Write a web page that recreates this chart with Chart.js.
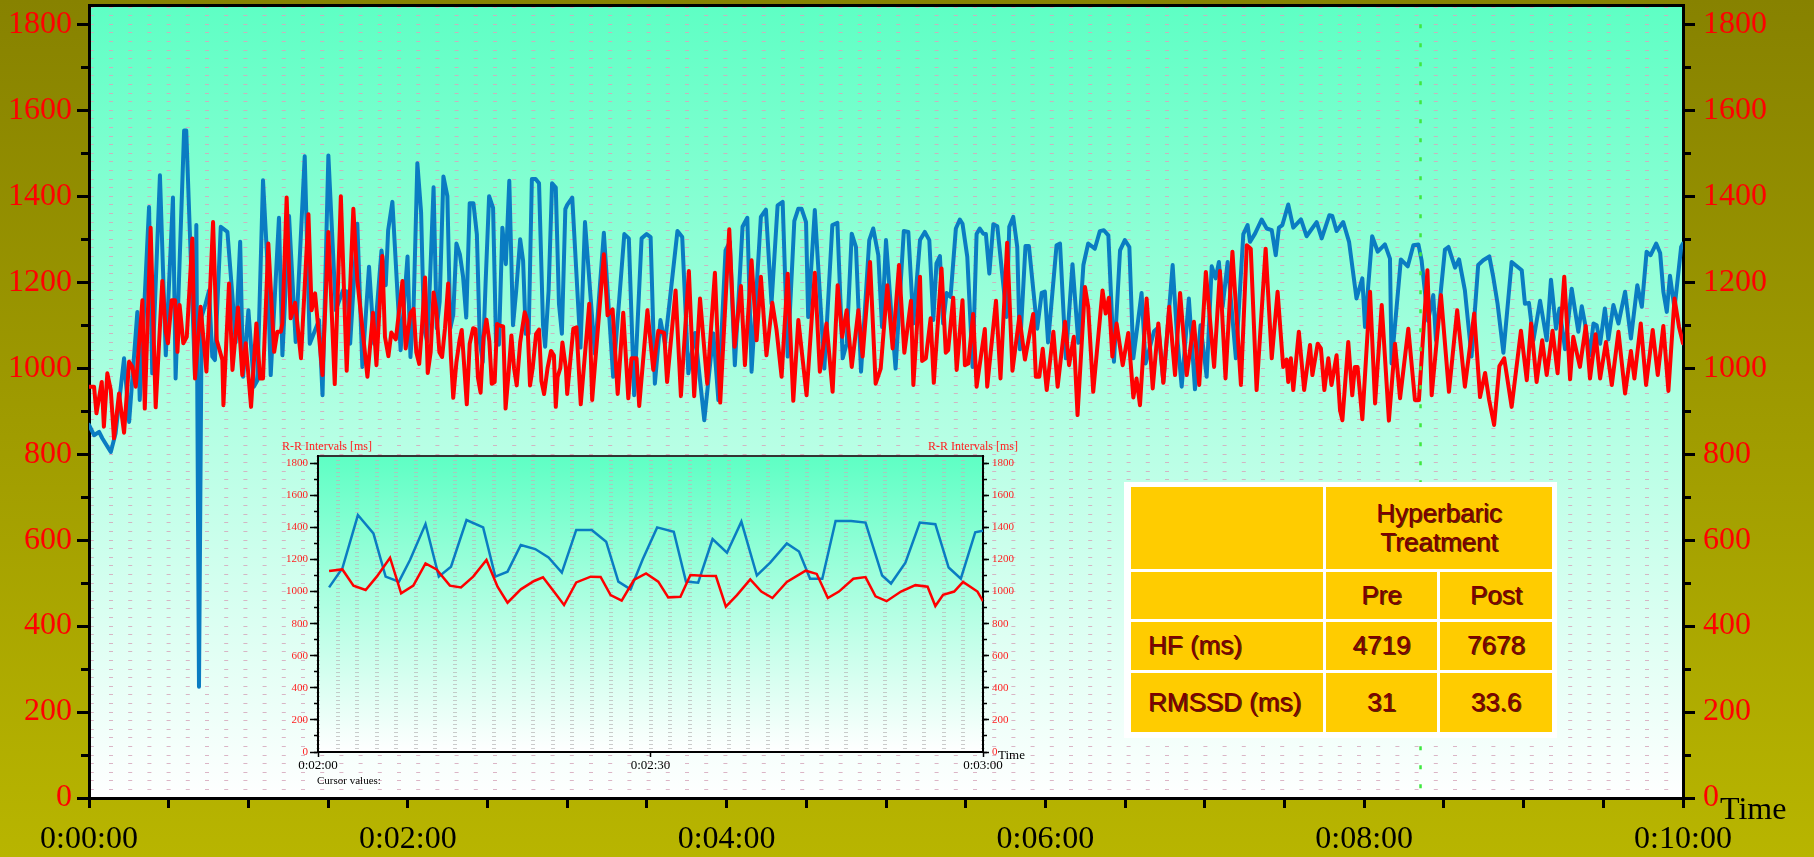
<!DOCTYPE html>
<html>
<head>
<meta charset="utf-8">
<script src="https://cdn.jsdelivr.net/npm/chart.js@4.4.1/dist/chart.umd.min.js"></script>
<style>
  html, body { margin: 0; padding: 0; }
  body { width: 1814px; height: 857px; overflow: hidden; position: relative;
         background: linear-gradient(to bottom, #878200, #b8b500); font-family: 'Liberation Serif', serif; }
  #main { position: absolute; left: 0; top: 0; }
  #inset { position: absolute; left: 230px; top: 430px; }
  .lbl { position: absolute; white-space: nowrap; line-height: 1; }
  #stats { position: absolute; left: 1124px; top: 482px; width: 433px; height: 256px; box-sizing: border-box;
           background: #fff; padding: 5px 4px 5px 7px; display: grid;
           grid-template-columns: 192px 111px 112px; grid-template-rows: 82px 47px 48px 59px; gap: 3px;
           font-family: 'Liberation Sans', Arial, sans-serif; font-size: 26px; color: #7d0000;
           text-shadow: 1.2px 1.2px 0 rgba(40,0,0,0.8); }
  #stats div { background: #ffcc00; display: flex; align-items: center; justify-content: center; text-align: center; line-height: 1.12; }
  #stats div.rowlab { justify-content: flex-start; padding-left: 17px; }
</style>
</head>
<body>
<canvas id="main" width="1814" height="857"></canvas>
<canvas id="inset" width="830" height="380"></canvas>
<div class="lbl" style="left:1720px; top:792px; font-size:32px; color:#000;">Time</div>
<div class="lbl" style="left:282px; top:440px; font-size:12px; color:#ff2020;">R-R Intervals [ms]</div>
<div class="lbl" style="left:928px; top:440px; font-size:12px; color:#ff2020;">R-R Intervals [ms]</div>
<div class="lbl" style="left:998px; top:748px; font-size:13px; color:#000;">Time</div>
<div class="lbl" style="left:317px; top:775px; font-size:11px; color:#000;">Cursor values:</div>
<div id="stats"></div>
<script>
// R-R series, [seconds, ms]
const blueRR = [
  [0,868],[1.9,844],[3.8,852],[5.0,837],[8.2,805],[10.0,848],[13.2,1023],[15.1,875],[18.2,1131],[19.1,926],
  [22.6,1375],[23.8,988],[26.7,1449],[28.9,1030],[31.6,1397],[32.6,976],[35.8,1553],[36.6,1553],[39.9,980],[40.4,1333],
  [41.4,259],[42.4,1120],[43.9,1150],[45.2,1181],[46.4,1027],[47.4,1019],[49.6,1329],[52.1,1317],[54.0,1166],[55.2,1060],
  [56.9,1294],[58.0,980],[60.0,1135],[62.1,957],[63.4,972],[65.5,1437],[67.1,1251],[68.4,984],[71.5,1350],[72.8,1030],
  [75.3,1354],[77.8,1061],[81.2,1493],[83.1,1057],[86.6,1112],[87.9,937],[90.1,1495],[92.9,1135],[95.6,1181],[97.3,1178],
  [98.3,1057],[101.0,1336],[102.9,1003],[105.4,1236],[107.3,1057],[110.1,1274],[111.7,1193],[112.6,1321],[114.2,1387],[117.3,1042],
  [119.9,1260],
  [121.0,1026],[122.2,1145],[123.6,1477],[125.0,1363],[126.1,1093],[127.3,1062],[128.3,1197],[129.7,1421],[130.9,1093],[132.0,1155],
  [133.4,1446],[134.9,1400],[136.0,1093],[137.1,1124],[138.3,1290],[139.6,1265],[140.8,1213],[142.0,1118],[143.3,1384],[144.7,1384],
  [146.0,1311],[147.1,1062],[148.2,1014],[149.3,1201],[150.6,1400],[152.1,1373],[153.2,1062],[154.3,1055],[155.6,1327],[156.9,1242],
  [158.2,1436],[159.6,1100],[160.8,1180],[162.3,1300],[163.4,1250],[164.4,1080],[165.5,1080],[166.7,1440],[168.1,1440],[169.4,1430],
  [170.9,1100],[171.7,1050],[173.0,1180],[174.3,1430],[175.7,1420],[176.9,1150],[178.0,1080],[179.3,1370],[180.0,1380],
  [181.9,1397],[185.0,1048],[186.7,1340],[190.4,1034],[193.8,1315],[197.3,980],[201.5,1312],[203.2,1302],[205.2,937],[208.0,1302],
  [209.9,1312],[211.4,1305],[213.0,964],[215.1,1112],[216.8,1057],[221.5,1319],[223.3,1305],[225.6,988],[228.1,1082],[231.6,879],
  [235.0,1081],[236.9,926],[239.6,1274],[241.2,1294],[243.1,1007],[246.0,1329],[247.8,1350],[249.4,992],[252.9,1352],[254.8,1369],
  [256.9,1150],[259.2,1379],[261.1,1387],[263.0,1027],[265.5,1343],[267.0,1371],[268.2,1371],[269.9,1340],[270.7,1119],[273.2,1368],
  [276.8,999],[279.8,1333],[281.7,1338],[283.7,1023],[285.2,1057],[287.1,1313],[288.7,1282],[290.6,992],[293.7,1298],[295.2,1325],
  [297.1,1263],[298.5,1096],
  [300.0,1298],[302.1,1119],[303.6,999],[306.7,1319],[308.4,1317],[310.3,1104],[312.8,1298],[314.6,1317],[316.3,1298],[317.8,1112],
  [319.0,1244],[320.3,1261],[321.5,1104],[322.8,1175],[324.3,1166],[326.3,1325],[327.8,1346],[328.8,1336],[330.6,1259],[332.6,1003],
  [334.1,1312],[335.3,1325],[336.6,1313],[337.6,1312],[338.9,1220],[340.4,1335],[341.9,1330],[345.4,1119],[346.4,1329],[347.9,1352],
  [349.4,1282],[350.4,1044],[352.5,1284],[353.8,1284],[356.9,1092],[358.6,1175],[359.8,1178],[361.0,1060],[364.2,1286],[365.5,1290],
  [367.7,1023],[370.2,1242],[372.4,1059],[374.3,1240],[376.1,1290],[378.6,1278],[380.5,1319],[382.0,1321],[383.7,1309],[385.8,1015],
  [388.1,1274],[389.9,1298],[391.6,1282],[393.1,1023],[396.2,1175],[397.7,1011],[400.9,1086],[402.5,1095],[404.4,968],[407.9,1240],
  [409.5,1080],[411.3,957],[414.0,1162],[416.3,951],[418.4,1100],[420.7,980],[422.6,1237],[424.1,1209],[425.3,1247],[426.7,1143],
  [428.6,1247],[431.7,1023],[434.5,1312],[436.1,1333],[437.0,1294],[438.9,1313],[441.4,1346],[443.3,1325],[445.2,1321],[446.7,1263],
  [447.9,1327],[449.2,1333],[451.4,1381],[453.3,1327],[456.2,1346],[458.3,1307],[462.1,1340],[464.0,1302],[466.9,1356],[468.0,1354],
  [469.6,1319],[472.1,1340],[474.3,1294],[477.1,1162],[479.3,1209],[480.3,1096],[483.0,1307],[485.1,1271],[487.8,1288],[489.7,1255],
  [490.3,1011],[493.8,1253],[496.4,1237],[498.5,1286],[500.4,1288],[501.6,1251],[504.0,1110],[506.0,1170],[507.0,1065],[510.4,1276],
  [511.7,1282],[514.2,1234],[515.7,1253],[517.9,1181],[520.4,1027],[522.9,1240],[524.8,1251],[527.1,1260],[528.5,1215],[530.2,1150],
  [532.4,1036],[535.5,1247],[539.3,1228],[540.5,1150],[542.0,1152],[543.7,1065],[546.2,1157],[548.7,1065],[550.3,1206],[552.2,1092],
  [553.5,1139],[555.6,1044],[558.1,1185],[560.6,1085],[561.9,1144],[563.1,1104],[564.9,1030],[566.3,1104],[567.5,1100],[568.8,1057],
  [570.6,1139],[571.9,1067],[573.8,1147],[575.7,1104],[578.2,1178],[580.4,1069],[582.8,1193],[584.5,1143],[586.3,1271],[587.8,1263],
  [589.9,1290],[591.4,1268],[592.6,1178],[593.9,1131],[595.1,1215],[596.8,1139],[599.3,1282],[600,1290]
];
const redRR = [
  [0,957],[1.9,957],[2.8,895],[4.8,968],[5.6,864],[6.9,988],[8.2,949],[9.4,837],[11.3,941],[13.2,850],
  [15.1,1015],[16.3,1003],[17.6,957],[20.1,1158],[21.0,906],[23.2,1327],[25.1,909],[27.6,1203],[28.9,1085],[29.7,1058],
  [31.1,1158],[32.4,1158],[33.3,1038],[34.1,1147],[35.5,1058],[36.8,1073],[38.9,1302],[39.9,976],[42.0,1143],[44.2,992],
  [46.7,1340],[48.1,1065],[50.2,1019],[50.6,914],[52.7,1197],[54.0,996],[56.1,1141],[57.7,984],[59.0,1058],[61.0,910],
  [63.0,1104],[64.4,976],[65.5,976],[67.5,1290],[69.7,1038],[70.9,1085],[72.2,1085],[72.8,1104],[74.4,1397],[75.9,1116],
  [77.6,1152],[79.8,1023],[82.6,1358],[83.8,1135],[85.1,1174],[87.9,984],[90.1,1317],[92.5,963],[94.8,1400],[97.0,994],
  [99.5,1371],[101.0,1205],[104.8,980],[106.9,1129],[108.2,1007],[110.4,1261],[111.4,1073],[112.7,1028],[113.8,1083],[115.5,1067],
  [118.0,1203],[119.2,1046],
  [121.0,1128],[122.2,1138],[123.2,1037],[124.3,1010],[125.3,1093],[126.5,1211],[127.5,989],[128.6,1037],[129.7,1176],[130.7,1138],
  [131.9,1037],[132.9,1026],[134.0,1093],[135.2,1197],[136.2,1030],[137.1,931],[138.3,1014],[139.5,1066],[140.3,1089],[141.3,999],
  [142.2,916],[143.3,1057],[144.6,1093],[145.5,1091],[146.4,978],[147.4,943],[148.5,1072],[149.6,1113],[150.7,1062],[151.6,964],
  [152.7,968],[153.6,1103],[154.7,1099],[155.9,1097],[156.8,906],[157.8,978],[159.0,1076],[160.0,1000],[161.0,960],[162.3,1060],
  [164.0,1130],[165.0,1110],[166.0,960],[167.0,1000],[168.3,1080],[169.4,1090],[170.3,970],[171.3,940],[172.6,1000],[173.9,1040],
  [175.0,1030],[175.7,910],[176.4,980],[177.4,1000],[178.2,1060],[179.5,1000],[180.0,940],
  [182.3,1092],[183.5,1095],[185.1,916],[188.3,1150],[189.4,926],[193.8,1265],[195.2,1123],[197.1,1137],[199.0,940],[201.1,1129],
  [203.0,930],[204.2,1023],[206.1,1023],[207.1,912],[210.2,1135],[212.4,996],[214.3,1087],[216.5,1082],[217.6,968],[220.8,1181],
  [222.8,935],[225.8,1226],[227.8,935],[230.0,1162],[232.7,964],[235.6,1222],[237.6,920],[241.0,1323],[243.0,1050],[245.4,1191],
  [246.9,1007],[249.4,1251],[251.3,1065],[252.9,1213],[255.0,1030],[257.2,1152],[258.8,1089],[260.7,980],[263.0,1220],[265.1,924],
  [267.0,1112],[270.1,937],[273.2,1222],[275.1,992],[277.6,1104],[279.9,945],[281.8,1193],[283.5,1073],[285.2,1135],[287.1,1003],
  [289.6,1135],[291.2,1027],[294.0,1247],[296.1,964],[298.0,999],
  [300.5,1193],[302.5,1046],[304.9,1240],[306.9,1036],[309.4,1157],[310.3,961],[312.8,1213],[313.6,1017],[315.0,1023],[316.8,1116],
  [318.0,966],[320.9,1232],[322.5,1036],[323.4,1042],[325.3,1164],[326.6,996],[328.8,1158],[329.7,1007],[331.0,1011],[332.8,1126],
  [334.1,957],[337.2,1091],[338.1,957],[341.4,1157],[343.1,976],[345.6,1292],[347.6,994],[350.2,1120],[352.3,1020],[355.4,1126],
  [356.4,980],[357.7,980],[359.0,1045],[360.5,949],[363.0,1085],[364.6,957],[367.4,1108],[368.9,1007],[370.7,1073],[372.1,891],
  [374.9,1189],[376.1,1143],[378.0,945],[381.5,1181],[382.7,1127],[383.9,1164],[385.2,1027],[386.8,1104],[389.1,1007],[391.2,1082],
  [393.1,932],[394.3,976],[395.6,914],[398.1,1162],[400.4,953],[402.5,1104],[404.4,966],[406.6,1143],[408.8,984],[410.7,1175],
  [413.2,984],[415.9,1108],[417.9,961],[420.4,1224],[423.5,1003],[425.7,1226],[427.8,976],[430.4,1271],[433.6,961],[435.8,1286],
  [437.3,1278],[439.5,949],[442.9,1278],[445.2,1023],
  [447.4,1178],[449.5,1003],[450.8,1020],[451.4,968],[452.4,1023],[453.3,949],[455.4,1085],[457.4,949],[459.6,1054],[460.5,984],
  [462.5,1057],[463.7,1046],[465.0,949],[466.5,1023],[467.7,961],[469.6,1030],[470.9,902],[471.8,879],[474.0,1061],[475.5,937],
  [476.5,1003],[477.5,1003],[479.3,881],[482.2,1178],[484.1,918],[486.6,1147],[489.3,878],[491.6,1057],[493.5,930],[496.6,1092],
  [499.1,926],[500.6,926],[503.8,1228],[505.4,937],[508.9,1170],[511.9,945],[515.0,1135],[517.9,957],[521.4,1127],[523.6,933],
  [525.5,989],[527.0,927],[528.9,868],[530.9,1005],[532.7,1023],[535.5,910],[539.0,1087],[541.2,972],[542.8,1104],[544.9,968],
  [547.0,1065],[548.7,984],[550.9,1087],[552.8,988],[555.3,1213],[557.5,974],[558.7,1073],[561.2,1003],[563.4,1098],[565.0,976],
  [567.1,1079],[568.8,976],[571.0,1061],[573.2,961],[575.7,1085],[578.2,941],[580.4,1040],[581.7,976],[584.1,1104],[586.1,961],
  [588.6,1089],[590.5,984],[592.6,1098],[594.5,947],[596.8,1162],[598.5,1096],[600,1058]
];
const cursorTime = 501.2;
const cursorSpan = [1800, 0];
const mainRange = [0, 600];
const insetRange = [120, 180];
const yRange = [0, 1845];

const statHeader = ['Hyperbaric<br>Treatment'];
const statCols = ['Pre', 'Post'];
const statRows = ['HF (ms)', 'RMSSD (ms)'];
const statPre = ['4719', '31'];
const statPost = ['7678', '33.6'];

// table
const stats = document.getElementById('stats');
const cell = (html, cls, span) => {
  const d = document.createElement('div');
  d.innerHTML = html;
  if (cls) d.className = cls;
  if (span) d.style.gridColumn = span;
  stats.appendChild(d);
};
cell('');
cell(statHeader[0], '', '2 / 4');
cell(''); cell(statCols[0]); cell(statCols[1]);
statRows.forEach((r, i) => { cell(r, 'rowlab'); cell(statPre[i]); cell(statPost[i]); });

function fmt(s) {
  const m = Math.floor(s / 60), ss = Math.round(s % 60);
  return '0:' + String(m).padStart(2, '0') + ':' + String(ss).padStart(2, '0');
}
const pts = arr => arr.map(p => ({x: p[0], y: p[1]}));

// fixed axis sizes, no extra label padding
const fixW = w => s => { s.width = w; s.paddingTop = 0; s.paddingBottom = 0; };
const fixH = h => s => { s.height = h; s.paddingLeft = 0; s.paddingRight = 0; };

const plotBg = {
  id: 'plotBg',
  beforeDraw(chart) {
    const {ctx, chartArea: a} = chart;
    const g = ctx.createLinearGradient(0, a.top, 0, a.bottom);
    g.addColorStop(0, '#5effc4');
    g.addColorStop(1, '#ffffff');
    ctx.save();
    ctx.fillStyle = g;
    ctx.fillRect(a.left, a.top, a.right - a.left, a.bottom - a.top);
    ctx.restore();
  }
};

const serif = 'Liberation Serif';

// value axis: labels every 200, short ticks every 100
const valueAxis = (pos, width, weight, size, pad, tick) => ({
  type: 'linear', position: pos, weight: weight, min: yRange[0], max: yRange[1],
  afterFit: fixW(width),
  ticks: {
    stepSize: 100, autoSkip: false, includeBounds: false, padding: pad,
    color: size > 20 ? '#ff0000' : '#ff2020', font: { family: serif, size: size },
    callback: v => v % 200 === 0 ? String(v) : ''
  },
  grid: { drawOnChartArea: false, tickLength: tick, tickWidth: size > 20 ? 3 : 1.5, tickColor: '#000' },
  border: { color: '#000', width: size > 20 ? 3 : 2 }
});
// long ticks every 200, no labels
const majorTicks = (pos, tick, w) => ({
  type: 'linear', position: pos, weight: 0, min: yRange[0], max: yRange[1],
  afterFit: fixW(0),
  ticks: { display: false, stepSize: 200, includeBounds: false },
  grid: { drawOnChartArea: false, tickLength: tick, tickWidth: w, tickColor: '#000' },
  border: { display: false }
});

// Main chart
new Chart(document.getElementById('main'), {
  type: 'line',
  data: {
    datasets: [
      {
        label: 'cursor',
        data: cursorSpan.map(v => ({x: cursorTime, y: v})),
        borderColor: '#3fe83f',
        borderWidth: 2.5,
        borderDash: [4, 15],
        pointRadius: 0
      },
      {
        label: 'red',
        data: pts(redRR),
        borderColor: '#ff0000',
        borderWidth: 4,
        pointRadius: 0,
        borderJoinStyle: 'round',
        borderCapStyle: 'round'
      },
      {
        label: 'blue',
        data: pts(blueRR),
        borderColor: '#0a7cc2',
        borderWidth: 4,
        pointRadius: 0,
        borderJoinStyle: 'round',
        borderCapStyle: 'round'
      }
    ]
  },
  options: {
    responsive: false,
    animation: false,
    events: [],
    plugins: { legend: { display: false }, tooltip: { enabled: false } },
    layout: { padding: 0 },
    scales: {
      x: {
        type: 'linear', position: 'bottom', min: mainRange[0], max: mainRange[1],
        afterFit: fixH(59),
        ticks: {
          stepSize: 30, autoSkip: false, maxRotation: 0, includeBounds: false, padding: 12,
          color: '#000', font: { family: serif, size: 32 },
          callback: v => v % 120 === 0 ? fmt(v) : ''
        },
        grid: { drawOnChartArea: false, tickLength: 10, tickWidth: 3, tickColor: '#000' },
        border: { color: '#000', width: 3 }
      },
      xTop: {
        type: 'linear', position: 'top', min: mainRange[0], max: mainRange[1],
        afterFit: fixH(5),
        ticks: { display: false },
        grid: { drawOnChartArea: false, drawTicks: false },
        border: { color: '#000', width: 3 }
      },
      y: valueAxis('left', 89, 2, 32, 9, 8),
      yMajor: majorTicks('left', 12, 3),
      yGrid: {
        type: 'linear', position: 'left', weight: 0, min: yRange[0], max: yRange[1],
        afterFit: fixW(0),
        ticks: { display: false, stepSize: 20, includeBounds: false },
        grid: { color: 'rgba(214,168,188,0.85)', lineWidth: 1, drawTicks: false },
        border: { display: false, dash: [4, 15.2], dashOffset: 18.4 }
      },
      yRight: valueAxis('right', 131, 2, 32, 12, 8),
      yRightMajor: majorTicks('right', 12, 3)
    }
  },
  plugins: [plotBg]
});

// Inset: 0:02:00 - 0:03:00
const inWin = arr => arr.filter(p => p[0] >= insetRange[0] && p[0] <= insetRange[1] + 2);
new Chart(document.getElementById('inset'), {
  type: 'line',
  data: {
    datasets: [
      { label: 'red', data: pts(inWin(redRR)), borderColor: '#ff0000', borderWidth: 2.5, pointRadius: 0 },
      { label: 'blue', data: pts(inWin(blueRR)), borderColor: '#0a7cc2', borderWidth: 2.5, pointRadius: 0 }
    ]
  },
  options: {
    responsive: false,
    animation: false,
    events: [],
    plugins: { legend: { display: false }, tooltip: { enabled: false } },
    layout: { padding: 0 },
    scales: {
      x: {
        type: 'linear', position: 'bottom', min: insetRange[0], max: insetRange[1],
        afterFit: fixH(58),
        ticks: {
          stepSize: 30, autoSkip: false, maxRotation: 0, includeBounds: false, padding: 1,
          color: '#000', font: { family: serif, size: 13 }, callback: v => fmt(v)
        },
        grid: { drawOnChartArea: false, tickLength: 5, tickWidth: 1.5, tickColor: '#000' },
        border: { color: '#000', width: 2 }
      },
      xGrid: {
        type: 'linear', position: 'bottom', min: insetRange[0], max: insetRange[1],
        afterFit: fixH(0),
        ticks: { display: false, stepSize: 60 / 34, includeBounds: false },
        grid: { color: 'rgba(185,185,185,0.75)', lineWidth: 4, drawTicks: false },
        border: { display: false, dash: [1, 3] }
      },
      xTop: {
        type: 'linear', position: 'top', min: insetRange[0], max: insetRange[1],
        afterFit: fixH(26),
        ticks: { display: false },
        grid: { drawOnChartArea: false, drawTicks: false },
        border: { color: '#333', width: 2 }
      },
      y: valueAxis('left', 88, 2, 11, 6, 4),
      yMajor: majorTicks('left', 8, 1.5),
      yRight: valueAxis('right', 77, 2, 11, 5, 4),
      yRightMajor: majorTicks('right', 6, 1.5)
    }
  },
  plugins: [plotBg]
});
</script>
</body>
</html>
